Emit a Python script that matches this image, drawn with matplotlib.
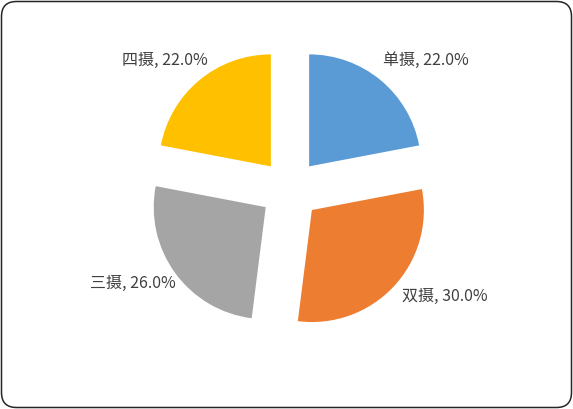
import matplotlib
matplotlib.use("Agg")
import matplotlib.pyplot as plt
from matplotlib.patches import FancyBboxPatch

plt.rcParams['font.family'] = ['Noto Sans CJK SC', 'DejaVu Sans']

# data
categories = ['单摄', '双摄', '三摄', '四摄']
shares = [22.0, 30.0, 26.0, 22.0]
colors = ['#5B9BD5', '#ED7D31', '#A5A5A5', '#FFC000']

# label anchor points (pixels, from top-left) - layout only
label_pos = [(383, 60), (402, 296), (90, 283), (122, 60)]

W, H = 573, 409
fig = plt.figure(figsize=(W / 100, H / 100), dpi=100)
ax = fig.add_axes([0, 0, 1, 1])

cx, cy, R = 290, H - 189.5, 112
# explode is in data units (offset in px here)
ax.pie(shares, colors=colors, startangle=90, counterclock=False,
       radius=R, center=(cx, cy), explode=[30] * len(shares),
       wedgeprops=dict(linewidth=0), frame=True)
ax.set_xlim(0, W)
ax.set_ylim(0, H)
ax.set_aspect('equal')
ax.axis('off')

for name, val, (x, y) in zip(categories, shares, label_pos):
    ax.text(x, H - y, f'{name}, {val:.1f}%', fontsize=11.5, color='#404040',
            ha='left', va='center')

border = FancyBboxPatch((1.5, 1.5), W - 3, H - 3, boxstyle='round,pad=0,rounding_size=15',
                        transform=None, fill=False, edgecolor='#262626', linewidth=1.1)
fig.patches.append(border)

fig.savefig('out.png', dpi=100)
